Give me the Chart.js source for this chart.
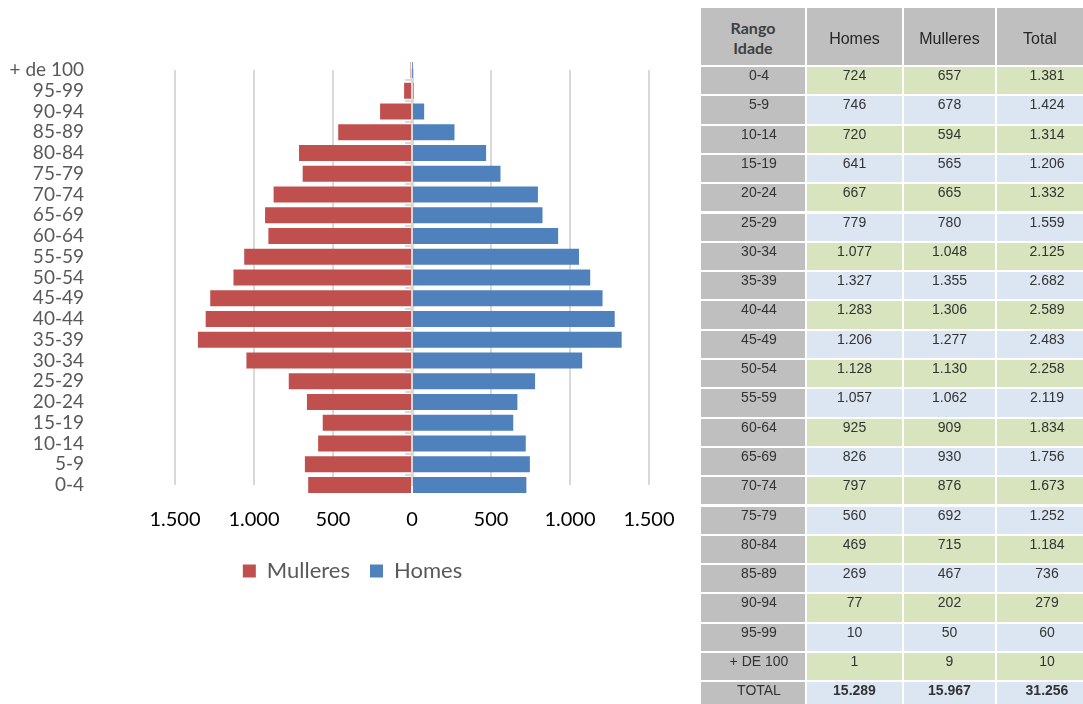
<!DOCTYPE html>
<html>
<head>
<meta charset="utf-8">
<script src="https://cdn.jsdelivr.net/npm/chart.js@4/dist/chart.umd.min.js"></script>
<style>
html,body{margin:0;padding:0;background:#fff;overflow:hidden;width:1083px;height:704px;}
#wrap{position:absolute;left:0;top:0;width:704px;height:600px;}
#tbl{position:absolute;left:0;top:0;width:1083px;height:704px;pointer-events:none;}
.c{position:absolute;box-sizing:border-box;font-family:"Liberation Sans",Arial,sans-serif;color:#333;text-align:center;overflow:hidden;white-space:nowrap;}
</style>
</head>
<body>
<div id="wrap"><canvas id="chart" width="704" height="600"></canvas></div>
<div id="tbl"></div>
<script>
// ---- data ----
const ageGroups = ['0-4','5-9','10-14','15-19','20-24','25-29','30-34','35-39','40-44','45-49','50-54','55-59','60-64','65-69','70-74','75-79','80-84','85-89','90-94','95-99','+ de 100'];
const tableLabels = ['0-4','5-9','10-14','15-19','20-24','25-29','30-34','35-39','40-44','45-49','50-54','55-59','60-64','65-69','70-74','75-79','80-84','85-89','90-94','95-99','+ DE 100'];
const homes    = [724,746,720,641,667,779,1077,1327,1283,1206,1128,1057,925,826,797,560,469,269,77,10,1];
const mulleres = [657,678,594,565,665,780,1048,1355,1306,1277,1130,1062,909,930,876,692,715,467,202,50,9];
const totals   = [1381,1424,1314,1206,1332,1559,2125,2682,2589,2483,2258,2119,1834,1756,1673,1252,1184,736,279,60,10];
const totalRow = ['TOTAL', 15289, 15967, 31256];
const headers  = ['Rango<br>Idade','Homes','Mulleres','Total'];
const xTicks   = [-1500,-1000,-500,0,500,1000,1500];

function fmt(n){ return String(n).replace(/\B(?=(\d{3})+(?!\d))/g,'.'); }

// shift the legend block so it is centred under the whole plot like the original
const legendShift = {
  id: 'legendShift',
  afterLayout(chart) {
    const lg = chart.legend;
    if (lg) { lg.left += 28; lg.right += 28; }
  }
};

// ---- chart ----
new Chart(document.getElementById('chart'), {
  type: 'bar',
  data: {
    labels: ageGroups,
    datasets: [
      {label:'Mulleres', data: mulleres.map(v => -v), backgroundColor:'#c0504d', xAxisID:'x', yAxisID:'y', clip:false},
      {label:'Homes', data: homes, backgroundColor:'#4f81bd', xAxisID:'x', yAxisID:'y', clip:false}
    ]
  },
  plugins: [legendShift],
  options: {
    indexAxis: 'y',
    responsive: false,
    animation: false,
    barPercentage: 0.77,
    categoryPercentage: 1,
    layout: {padding: {top: 70, right: 55, bottom: 8, left: 0}},
    plugins: {
      legend: {position:'bottom', labels:{boxWidth:13, boxHeight:13, padding:20, color:'#595959', font:{family:'Lato', size:22}}},
      tooltip: {enabled:false}
    },
    scales: {
      x: {
        type:'linear', min:-1500, max:1500, stacked:true,
        afterBuildTicks: s => { s.ticks = xTicks.map(v => ({value:v})); },
        grid: {color:'#d9d9d9', lineWidth:2, drawTicks:false},
        border: {display:false},
        ticks: {padding:23, color:'#000', font:{family:'Lato', size:20}, callback: v => fmt(Math.abs(v))},
        afterFit: s => { s.height = 55; }
      },
      y: {
        type:'category', reverse:true, offset:false, stacked:true,
        grid: {display:false, drawTicks:false}, border: {display:false},
        ticks: {autoSkip:false, padding:91, color:'#595959', font:{family:'Lato', size:19}},
        afterFit: s => { s.width = 175; s.paddingTop = 0; s.paddingBottom = 0; }
      },
      y2: {
        type:'category', axis:'y', position:{x:0}, reverse:true, offset:false,
        grid: {drawOnChartArea:false, color:'#d9d9d9', lineWidth:2, tickLength:6},
        border: {color:'#d9d9d9', width:3},
        ticks: {display:false, autoSkip:false}
      }
    }
  }
});

// ---- table ----
const tbl = document.getElementById('tbl');
const colEdges = [701, 807, 904, 997, 1085];
const green = '#d7e4bd', blue = '#dce6f2', gray = '#bfbfbf';
function cell(x0, x1, y, h, html, bg, style){
  const d = document.createElement('div');
  d.className = 'c';
  d.style.left = x0 + 'px'; d.style.width = (x1 - x0 - 2) + 'px';
  d.style.top = y + 'px'; d.style.height = h + 'px';
  d.style.background = bg;
  d.innerHTML = html;
  Object.assign(d.style, style || {});
  tbl.appendChild(d);
}
// header
headers.forEach((h, i) => {
  const st = i === 0
    ? {fontFamily:'Lato, sans-serif', fontWeight:'bold', fontSize:'16px', lineHeight:'20px', paddingTop:'10px', color:'#404040'}
    : {fontSize:'16px', lineHeight:'20px', paddingTop:'21px', color:'#262626'};
  cell(colEdges[i], colEdges[i+1], 8, 57, h, gray, st);
});
const rowH = 29.3, row0 = 67;
const rows = tableLabels.map((l, k) => [l, homes[k], mulleres[k], totals[k]]);
rows.push(totalRow);
rows.forEach((r, k) => {
  const y = row0 + k * rowH;
  const bg = k % 2 === 0 ? green : blue;
  const isTotal = k === rows.length - 1;
  r.forEach((v, i) => {
    const st = {fontSize:'14px', lineHeight:'17px', paddingTop:'0px'};
    if (i === 0) { st.paddingLeft = '12px'; }
    if (i === 3) { st.paddingLeft = '14px'; }
    if (isTotal && i > 0) st.fontWeight = 'bold';
    cell(colEdges[i], colEdges[i+1], y, rowH - 2, i === 0 ? v : fmt(v), i === 0 ? gray : bg, st);
  });
});
</script>
</body>
</html>
